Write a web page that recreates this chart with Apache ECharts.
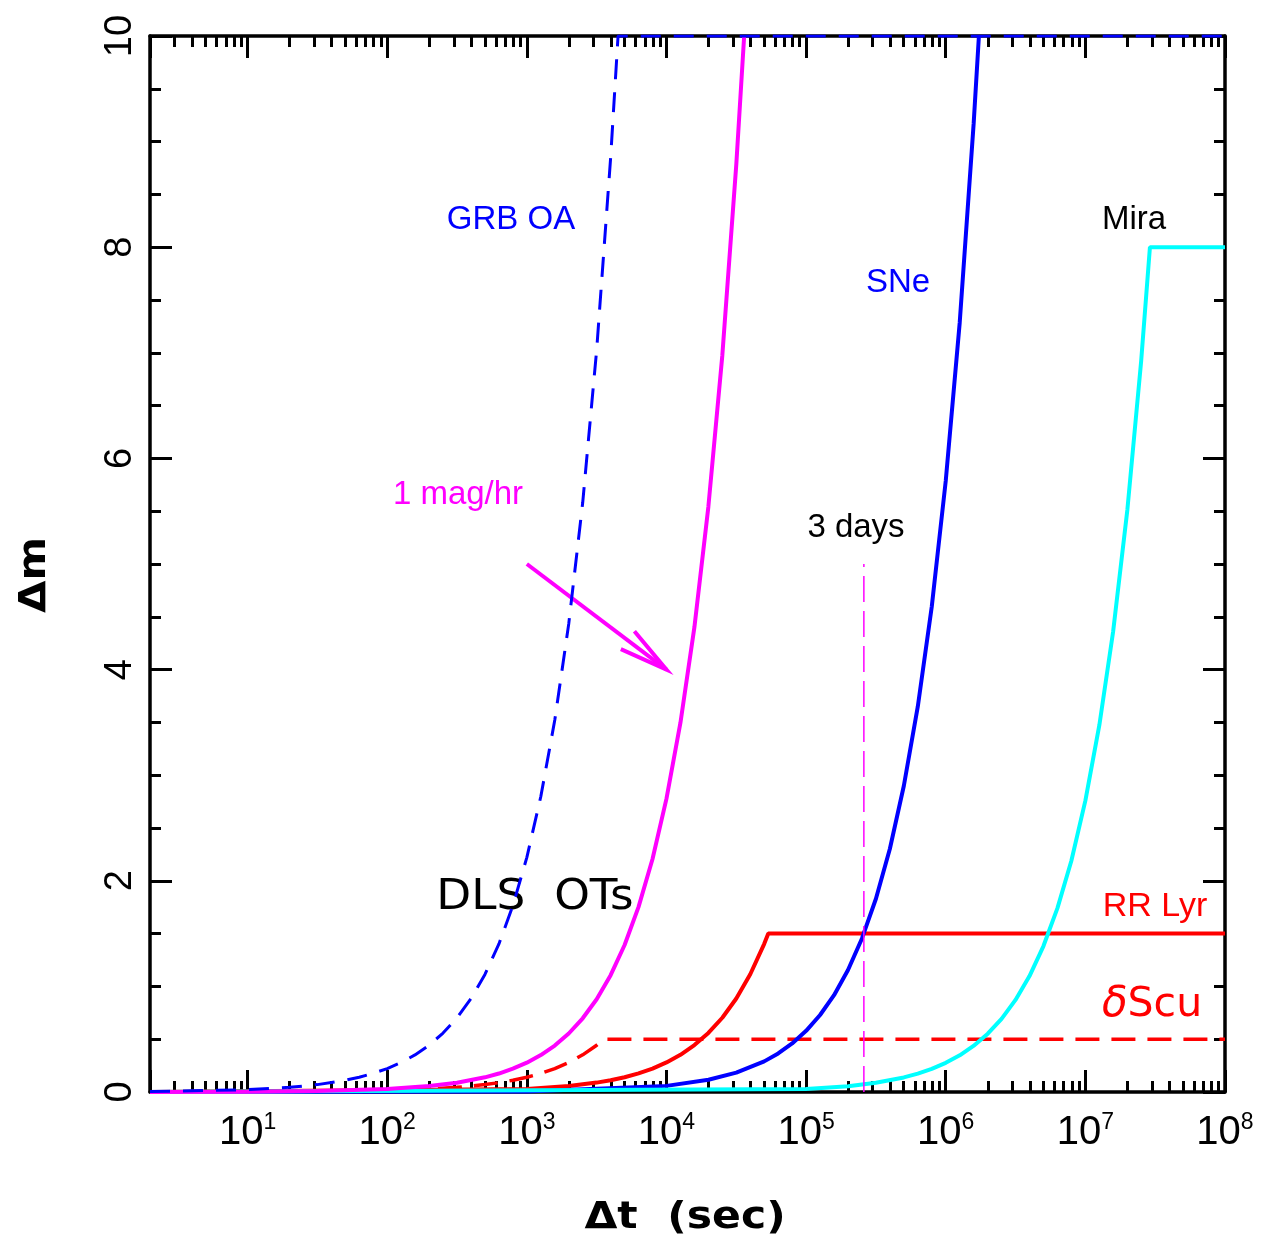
<!DOCTYPE html>
<html><head><meta charset="utf-8">
<script src="https://cdn.jsdelivr.net/npm/echarts@6/dist/echarts.min.js"></script>
<style>html,body{margin:0;padding:0;background:#fff}#c{width:1268px;height:1246px}</style>
</head><body><div id="c"></div>
<script>
// ---- data (Δt in seconds, Δm in magnitudes) ----
const grbT  = [2,10,20,31.6,50,63,79,100,126,158,200,251,316,398,501,631,794,1000,1259,1585,1995,2512,3162,3981,4500,1e8];
const grbM  = [0.0044,0.022,0.044,0.070,0.111,0.14,0.176,0.222,0.28,0.351,0.444,0.558,0.702,0.884,1.113,1.402,1.764,2.222,2.798,3.522,4.433,5.582,7.027,8.847,10,10];
const magT  = [2,10,31.6,100,200,316,501,631,794,1000,1259,1585,1995,2512,3162,3981,5012,6310,7943,10000,12589,15849,19953,25119,31623,36000];
const magM  = [0.0006,0.0028,0.0088,0.028,0.056,0.088,0.139,0.175,0.221,0.278,0.35,0.44,0.554,0.698,0.878,1.106,1.392,1.753,2.206,2.778,3.497,4.402,5.543,6.977,8.784,10];
const sneT  = [2,1000,10000,20000,31623,50119,63096,79433,100000,125893,158489,199526,251189,316228,398107,501187,630957,794328,1000000,1258925,1584893,1728000];
const sneM  = [0.00001,0.0058,0.058,0.116,0.183,0.29,0.365,0.46,0.579,0.729,0.917,1.155,1.454,1.83,2.304,2.9,3.651,4.597,5.787,7.285,9.172,10];
const miraT = [2,1e5,2e5,3.16e5,5.01e5,6.31e5,7.94e5,1e6,1.26e6,1.58e6,2e6,2.51e6,3.16e6,3.98e6,5.01e6,6.31e6,7.94e6,1e7,1.26e7,1.58e7,2e7,2.51e7,2.9e7,1e8];
const miraM = [0,0.028,0.055,0.087,0.138,0.174,0.219,0.276,0.347,0.436,0.552,0.693,0.872,1.098,1.382,1.741,2.19,2.759,3.476,4.359,5.517,6.924,8,8];
const rrT   = [2,1000,2000,3162,3981,5012,6310,7943,10000,12589,15849,19953,25119,31623,39811,50119,53600,1e8];
const rrM   = [0.00006,0.028,0.056,0.089,0.111,0.14,0.177,0.222,0.28,0.352,0.444,0.559,0.703,0.885,1.115,1.403,1.5,1.5];
const dscT  = [2,100,200,316,501,631,794,1000,1259,1585,1995,2512,3162,3570,1e8];
const dscM  = [0.0003,0.014,0.028,0.044,0.07,0.088,0.111,0.14,0.176,0.222,0.279,0.352,0.443,0.5,0.5];
const daysT = [259200,259200];
const daysM = [0,5];
const arrowFrom = [1000,5];
const arrowTo   = [10000,4];
const xDecades  = [0,1,2,3,4,5,6,7,8];
const yTicks    = [0,2,4,6,8,10];

const pairs = (t, m) => t.map((v, i) => [v, m[i]]);
const minorVals = [];
xDecades.slice(0, -1).forEach(d => { for (let k = 2; k <= 9; k++) { const v = k * Math.pow(10, d); if (v > 2 && v < 1e8) minorVals.push(Math.log10(v)); } });

const BLACK = '#000';
const lineAx = { show: true, onZero: false, lineStyle: { color: BLACK, width: 3.5 } };
const majTick = { show: true, inside: true, length: 22, lineStyle: { color: BLACK, width: 3 } };
const minTick = { show: true, inside: true, length: 11, lineStyle: { color: BLACK, width: 3 } };

function xLabel(v) {
  const e = Math.round(Math.log10(v));
  if (Math.abs(Math.log10(v) - e) > 1e-6 || e < 1) return '';
  return '{b|10}{s|' + e + '}';
}

const chart = echarts.init(document.getElementById('c'), null, { renderer: 'canvas' });
const sansF = 'Liberation Sans';
const MAG = '#ff00ff';

function renderArrow(params, api) {
  const p0 = api.coord([api.value(0), api.value(1)]);
  const p1 = api.coord([api.value(2), api.value(3)]);
  const ang = Math.atan2(p1[1] - p0[1], p1[0] - p0[0]);
  const L = 50, half = 13 * Math.PI / 180;
  const a1 = [p1[0] - L * Math.cos(ang - half), p1[1] - L * Math.sin(ang - half)];
  const a2 = [p1[0] - L * Math.cos(ang + half), p1[1] - L * Math.sin(ang + half)];
  const st = { stroke: MAG, lineWidth: 4, fill: null };
  return { type: 'group', children: [
    { type: 'polyline', shape: { points: [p0, p1] }, style: st },
    { type: 'polyline', shape: { points: [a1, p1, a2] }, style: Object.assign({ lineJoin: 'miter' }, st) }
  ] };
}

const option = {
  animation: false,
  backgroundColor: '#fff',
  grid: { left: 150, right: 43, top: 36, bottom: 154, containLabel: false },
  xAxis: [
    { type: 'log', logBase: 10, min: 2, max: 1e8, splitNumber: 10, position: 'bottom',
      axisLine: lineAx, axisTick: majTick, splitLine: { show: false },
      axisLabel: { margin: 19, formatter: xLabel, color: BLACK,
        rich: { b: { fontSize: 40, fontFamily: sansF, lineHeight: 44, color: BLACK },
                s: { fontSize: 23, fontFamily: sansF, lineHeight: 23, verticalAlign: 'top', color: BLACK } } } },
    { type: 'value', min: Math.log10(2), max: 8, position: 'bottom',
      axisLine: { show: false, onZero: false }, axisTick: Object.assign({ customValues: minorVals }, minTick),
      axisLabel: { show: false }, splitLine: { show: false } },
    { type: 'log', logBase: 10, min: 2, max: 1e8, splitNumber: 10, position: 'top',
      axisLine: lineAx, axisTick: majTick, axisLabel: { show: false }, splitLine: { show: false } },
    { type: 'value', min: Math.log10(2), max: 8, position: 'top',
      axisLine: { show: false, onZero: false }, axisTick: Object.assign({ customValues: minorVals }, minTick),
      axisLabel: { show: false }, splitLine: { show: false } }
  ],
  yAxis: [
    { type: 'value', min: 0, max: 10, interval: 2, position: 'left',
      axisLine: lineAx, axisTick: majTick,
      minorTick: { show: true, splitNumber: 4, length: 11, lineStyle: { color: BLACK, width: 3 } },
      axisLabel: { rotate: 90, margin: 10, fontSize: 38, fontFamily: sansF, color: BLACK,
        customValues: yTicks },
      splitLine: { show: false }, minorSplitLine: { show: false } },
    { type: 'value', min: 0, max: 10, interval: 2, position: 'right',
      axisLine: lineAx, axisTick: majTick,
      minorTick: { show: true, splitNumber: 4, length: 11, lineStyle: { color: BLACK, width: 3 } },
      axisLabel: { show: false }, splitLine: { show: false }, minorSplitLine: { show: false } }
  ],
  series: [
    { name: 'δScu', type: 'line', data: pairs(dscT, dscM), showSymbol: false, symbol: 'none',
      lineStyle: { color: '#ff0000', width: 3.5, type: [24, 12] } },
    { name: 'RR Lyr', type: 'line', data: pairs(rrT, rrM), showSymbol: false, symbol: 'none',
      lineStyle: { color: '#ff0000', width: 4 } },
    { name: 'SNe', type: 'line', data: pairs(sneT, sneM), showSymbol: false, symbol: 'none',
      lineStyle: { color: '#0000ff', width: 4 } },
    { name: 'Mira', type: 'line', data: pairs(miraT, miraM), showSymbol: false, symbol: 'none',
      lineStyle: { color: '#00ffff', width: 4 } },
    { name: '3 days', type: 'line', data: pairs(daysT, daysM), showSymbol: false, symbol: 'none',
      lineStyle: { color: MAG, width: 1.5, type: [26, 9] } },
    { name: '1 mag/hr', type: 'line', data: pairs(magT, magM), showSymbol: false, symbol: 'none',
      lineStyle: { color: MAG, width: 4 } },
    { name: 'arrow', type: 'custom', renderItem: renderArrow, silent: true,
      encode: { x: [0, 2], y: [1, 3] },
      data: [[arrowFrom[0], arrowFrom[1], arrowTo[0], arrowTo[1]]] },
    { name: 'GRB OA', type: 'line', data: pairs(grbT, grbM), showSymbol: false, symbol: 'none',
      lineStyle: { color: '#0000ff', width: 3, type: [20, 13] } }
  ],
  graphic: [
    { type: 'text', x: 511, y: 220, style: { text: 'GRB OA', fontSize: 33, fontFamily: sansF, fill: '#0000ff', align: 'center', verticalAlign: 'middle' } },
    { type: 'text', x: 898, y: 283, style: { text: 'SNe', fontSize: 33, fontFamily: sansF, fill: '#0000ff', align: 'center', verticalAlign: 'middle' } },
    { type: 'text', x: 1134, y: 220, style: { text: 'Mira', fontSize: 33, fontFamily: sansF, fill: '#000', align: 'center', verticalAlign: 'middle' } },
    { type: 'text', x: 458, y: 495, style: { text: '1 mag/hr', fontSize: 33, fontFamily: sansF, fill: MAG, align: 'center', verticalAlign: 'middle' } },
    { type: 'text', x: 856, y: 528, style: { text: '3 days', fontSize: 33, fontFamily: sansF, fill: '#000', align: 'center', verticalAlign: 'middle' } },
    { type: 'text', x: 1155, y: 907, style: { text: 'RR Lyr', fontSize: 34, fontFamily: sansF, fill: '#ff0000', align: 'center', verticalAlign: 'middle' } },
    { type: 'text', x: 535, y: 898, scaleX: 1.08,
      style: { text: 'DLS  OTs', fontSize: 42, fontFamily: 'DejaVu Sans', fill: '#000', align: 'center', verticalAlign: 'middle' } },
    { type: 'text', x: 1152, y: 1005, style: { text: '{d|δ}{s|Scu}', align: 'center', verticalAlign: 'middle',
        rich: { d: { fontSize: 42, fontFamily: 'DejaVu Sans', fontStyle: 'italic', fill: '#ff0000', color: '#ff0000' },
                s: { fontSize: 41, fontFamily: 'DejaVu Sans', fill: '#ff0000', color: '#ff0000' } } } },
    { type: 'text', x: 685, y: 1218, scaleX: 1.12,
      style: { text: 'Δt  (sec)', fontSize: 38, fontWeight: 'bold', fontFamily: 'DejaVu Sans', fill: '#000', align: 'center', verticalAlign: 'middle' } },
    { type: 'text', x: 35, y: 575, rotation: Math.PI / 2, scaleX: 1.1,
      style: { text: 'Δm', fontSize: 38, fontWeight: 'bold', fontFamily: 'DejaVu Sans', fill: '#000', align: 'center', verticalAlign: 'middle' } }
  ]
};
chart.setOption(option);
</script>
</body></html>
